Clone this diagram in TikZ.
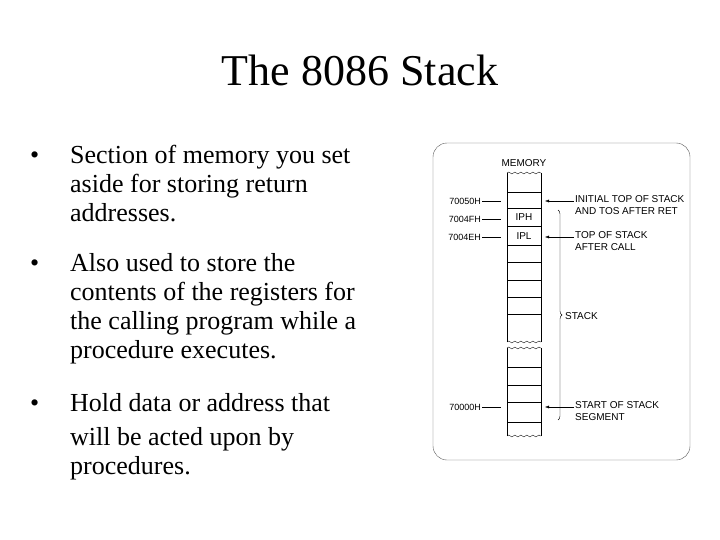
\documentclass[tikz,border=0pt]{standalone}
\usepackage{fontspec}
\setmainfont{Liberation Serif}
\newfontfamily\figfont{Liberation Sans}
\usetikzlibrary{positioning,arrows.meta,decorations.pathmorphing,decorations.pathreplacing}
\begin{document}
\begin{tikzpicture}
[x=1pt,y=-1pt,
line/.style={anchor=base west,font=\fontsize{26}{30}\selectfont,inner sep=0pt},
addr/.style={anchor=east,font=\figfont\fontsize{9}{10}\selectfont,inner sep=1pt},
note/.style={anchor=west,font=\figfont\fontsize{10}{12.5}\selectfont,inner sep=1pt,align=left},
arrow/.style={thin,-{Latex[length=4pt]}},
wavy/.style={decorate,decoration={snake,amplitude=1pt,segment length=6pt}}]
\useasboundingbox (0,0) rectangle (720,540);
\node (title) at (360,70) {\fontsize{44}{50}\selectfont The 8086 Stack};
% bullet text
\foreach \y/\t in {164/Section of memory you set, 193/aside for storing return, 222/addresses.,
  271/Also used to store the, 300/contents of the registers for, 329/the calling program while a,
  358/procedure executes., 411/Hold data or address that, 445/will be acted upon by, 474/procedures.}
  \node[line] at (70,\y) {\t};
\foreach \y in {164,271,411}
  \node[line] at (30,\y) {\textbullet};
% panel
\draw[rounded corners=14pt,gray!70!black] (433,143) rectangle (690,460);
\node[note,anchor=center] (memory) at (524,163) {MEMORY};
% memory column
\draw[wavy] (507,173) -- (541,173);
\draw (507,173) -- (507,342) (541,173) -- (541,342);
\draw[wavy] (507,342) -- (541,342);
\draw[wavy] (507,348) -- (541,348);
\draw (507,348) -- (507,436) (541,348) -- (541,436);
\draw[wavy] (507,436) -- (541,436);
\foreach \y in {192,208,226,245,262,280,297,314,367,385,402,422}
  \draw (507,\y) -- (541,\y);
\node[note,anchor=center] (iph) at (524,217) {IPH};
\node[note,anchor=center] (ipl) at (524,236) {IPL};
% addresses
\foreach \n/\y/\t in {a50/201/70050H, a4f/219/7004FH, a4e/237/7004EH, a00/407/70000H}{
  \node[addr] (\n) at (482,\y) {\t};
  \draw (\n.east) -- ++(19,0);
}
% notes
\coordinate (c1) at (545,201);
\coordinate (c2) at (545,237);
\coordinate (c3) at (545,407);
\node[note,anchor=north west] (n1) at (574,194) {INITIAL TOP OF STACK\\AND TOS AFTER RET};
\node[note,anchor=north west] (n2) at (574,230) {TOP OF STACK\\AFTER CALL};
\node[note,anchor=north west] (n3) at (574,400) {START OF STACK\\SEGMENT};
\draw[arrow] (n1.west |- c1) -- (c1);
\draw[arrow] (n2.west |- c2) -- (c2);
\draw[arrow] (n3.west |- c3) -- (c3);
\draw[decorate,decoration={brace,amplitude=4pt}] (558,210) -- (558,420);
\node[note] (stack) at (564,316) {STACK};
\end{tikzpicture}
\end{document}
